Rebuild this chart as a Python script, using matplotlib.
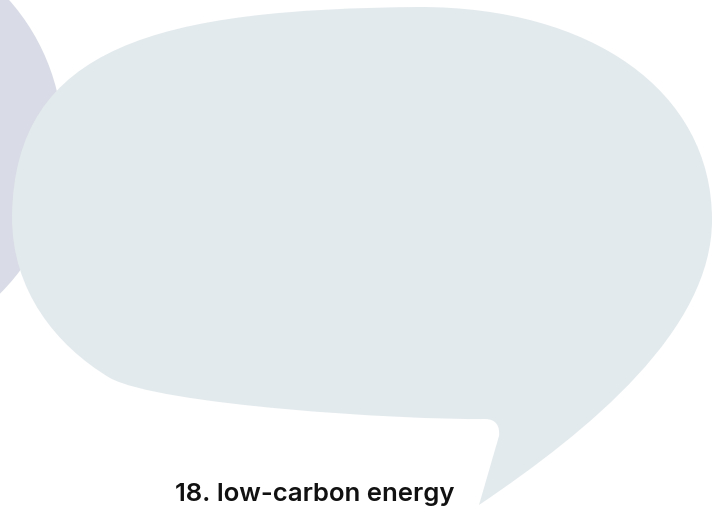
import matplotlib.pyplot as plt
from matplotlib.path import Path
from matplotlib.patches import PathPatch, Circle

# label under the bubble
label = "18. low-carbon energy"

# speech bubble outline as cubic Bezier segments (pixel coords, y down)
# each entry: control 1, control 2, end point; starts at the tail tip
tail_tip = (479, 505)
bubble_segments = [
    [(590, 430), (712, 330), (712, 220)],   # outer edge of tail up to right side
    [(712, 90), (590, 7), (420, 7)],        # right side to top
    [(160, 9), (14, 45), (12, 217)],        # top to left side
    [(12, 290), (55, 345), (110, 378)],     # left side to lower-left corner
    [(160, 405), (400, 420), (485, 419)],   # bottom edge
    [(496, 419), (500, 426), (499, 436)],   # rounded corner at the tail
]

# background disc on the left
disc_x, disc_y, disc_r = -151, 142, 214

verts = [tail_tip]
codes = [Path.MOVETO]
for seg in bubble_segments:
    verts += seg
    codes += [Path.CURVE4] * 3
verts += [tail_tip, tail_tip]
codes += [Path.LINETO, Path.CLOSEPOLY]
bubble = Path(verts, codes)

fig = plt.figure(figsize=(7.22, 5.13), dpi=100)
ax = fig.add_axes([0, 0, 1, 1])
ax.set_xlim(0, 722)
ax.set_ylim(513, 0)
ax.axis('off')

ax.add_patch(Circle((disc_x, disc_y), disc_r, facecolor='#d9dce6', edgecolor='none'))
ax.add_patch(PathPatch(bubble, facecolor='#e3eaed', edgecolor='none'))

ax.text(315, 501, label, ha='center', va='baseline', fontsize=18.5,
        fontfamily='Inter', fontweight='semibold', color='#111111')

fig.savefig('out.png', dpi=100)
